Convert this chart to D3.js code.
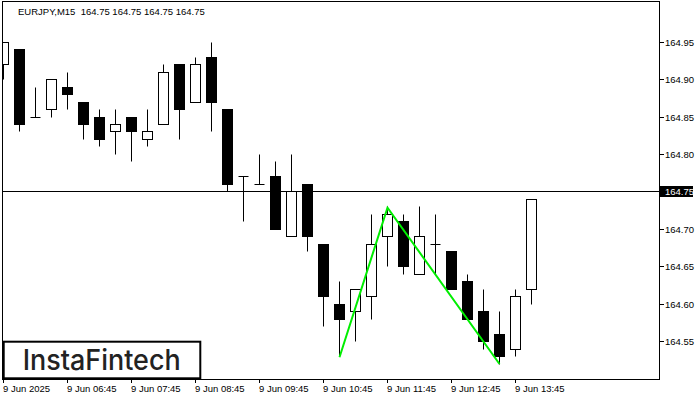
<!DOCTYPE html>
<html><head><meta charset="utf-8">
<script src="https://cdn.jsdelivr.net/npm/d3@7"></script>
<style>html,body{margin:0;padding:0;background:#fff;} svg{display:block;}</style>
</head><body>
<svg id="chart" width="700" height="400"></svg>
<script>
const times = ["05:45","06:00","06:15","06:30","06:45","07:00","07:15","07:30","07:45","08:00","08:15","08:30","08:45","09:00","09:15","09:30","09:45","10:00","10:15","10:30","10:45","11:00","11:15","11:30","11:45","12:00","12:15","12:30","12:45","13:00","13:15","13:30","13:45","14:00"];
const open  = [164.92,164.94,164.85,164.86,164.89,164.87,164.85,164.83,164.85,164.82,164.84,164.92,164.87,164.93,164.86,164.77,164.76,164.77,164.69,164.76,164.68,164.60,164.59,164.61,164.69,164.71,164.64,164.68,164.67,164.63,164.59,164.56,164.54,164.62];
const high  = [164.95,164.94,164.89,164.90,164.91,164.87,164.86,164.86,164.85,164.86,164.92,164.92,164.93,164.95,164.86,164.77,164.80,164.79,164.80,164.76,164.68,164.63,164.62,164.72,164.73,164.72,164.73,164.72,164.67,164.64,164.62,164.59,164.62,164.74];
const low   = [164.90,164.83,164.85,164.85,164.86,164.82,164.81,164.80,164.79,164.81,164.84,164.82,164.87,164.83,164.75,164.71,164.76,164.70,164.69,164.67,164.57,164.53,164.55,164.58,164.65,164.64,164.64,164.64,164.62,164.58,164.54,164.52,164.53,164.60];
const close = [164.95,164.84,164.85,164.90,164.88,164.84,164.82,164.84,164.83,164.83,164.91,164.86,164.92,164.87,164.76,164.77,164.76,164.70,164.75,164.69,164.61,164.58,164.62,164.68,164.72,164.65,164.69,164.68,164.62,164.58,164.55,164.53,164.61,164.74];

const priceTicks = [164.55,164.60,164.65,164.70,164.80,164.85,164.90,164.95];
const timeTicks = ["05:45","06:45","07:45","08:45","09:45","10:45","11:45","12:45","13:45"];
const timeTickLabels = ["9 Jun 2025","9 Jun 06:45","9 Jun 07:45","9 Jun 08:45","9 Jun 09:45","9 Jun 10:45","9 Jun 11:45","9 Jun 12:45","9 Jun 13:45"];
const lastPrice = 164.75;
const title = "EURJPY,M15  164.75 164.75 164.75 164.75";
const patternTimes = ["11:00","11:45","13:30"];
const patternPrices = [164.529,164.729,164.52];
const brand = "InstaFintech";

const parse = d3.timeParse("%H:%M");
const W = 700, H = 400;
const plot = {left: 2.5, right: 659.5, top: 1.5, bottom: 379};
const snap = v => Math.round(v - 0.5) + 0.5;

const x = d3.scaleTime().domain([parse("05:45"), parse("16:00")]).range([3.5, 659.5]);
const y = d3.scaleLinear().domain([164.5, 165.005]).range([379, 1]);

const svg = d3.select("#chart");
const FONT = "'Liberation Sans', Arial, sans-serif";

svg.append("defs").append("clipPath").attr("id","clip")
  .append("rect").attr("x",3).attr("y",2).attr("width",656).attr("height",377);

const g = svg.append("g").attr("clip-path","url(#clip)");

const candles = times.map((t,i)=>({t:parse(t), o:open[i], h:high[i], l:low[i], c:close[i]}));
const cg = g.selectAll("g.c").data(candles).join("g").attr("class","c");
cg.append("line")
  .attr("x1", d=>snap(x(d.t))).attr("x2", d=>snap(x(d.t)))
  .attr("y1", d=>snap(y(d.h))).attr("y2", d=>snap(y(d.l)))
  .attr("stroke","#000").attr("stroke-width",1);
cg.each(function(d){
  const cx = snap(x(d.t));
  const top = snap(y(Math.max(d.o,d.c)));
  const bot = snap(y(Math.min(d.o,d.c)));
  const sel = d3.select(this);
  if (bot - top < 1) {
    sel.append("line").attr("x1",cx-5).attr("x2",cx+5).attr("y1",top).attr("y2",top)
      .attr("stroke","#000").attr("stroke-width",1);
  } else {
    sel.append("rect").attr("x",cx-5).attr("y",top).attr("width",10).attr("height",bot-top)
      .attr("fill", d.c >= d.o ? "#fff" : "#000").attr("stroke","#000").attr("stroke-width",1);
  }
});

// current price line
g.append("line").attr("x1",plot.left).attr("x2",plot.right)
  .attr("y1",snap(y(lastPrice))).attr("y2",snap(y(lastPrice)))
  .attr("stroke","#000").attr("stroke-width",1);

// pattern line
const pts = patternTimes.map((t,i)=>[x(parse(t)), y(patternPrices[i])]);
g.append("path").attr("d", d3.line()(pts)).attr("fill","none")
  .attr("stroke","#00ee00").attr("stroke-width",2).attr("stroke-linejoin","miter");

// frame
svg.append("rect").attr("x",plot.left).attr("y",plot.top)
  .attr("width",plot.right-plot.left).attr("height",plot.bottom-plot.top+0.5)
  .attr("fill","none").attr("stroke","#000").attr("stroke-width",1);

// title
svg.append("text").attr("x",18).attr("y",14.5).attr("xml:space","preserve")
  .style("white-space","pre")
  .attr("font-family",FONT).attr("font-size",9.5).attr("fill","#000").text(title);

// right axis
const ra = svg.append("g");
priceTicks.forEach(p=>{
  const yy = snap(y(p));
  ra.append("line").attr("x1",660).attr("x2",664).attr("y1",yy).attr("y2",yy).attr("stroke","#000");
  ra.append("text").attr("x",665).attr("y",yy+3.5).attr("font-family",FONT).attr("font-size",9.5)
    .attr("fill","#000").text(d3.format(".2f")(p));
});
const ly = snap(y(lastPrice));
ra.append("rect").attr("x",660).attr("y",ly-5.5).attr("width",33).attr("height",11).attr("fill","#000");
ra.append("text").attr("x",665).attr("y",ly+3.5).attr("font-family",FONT).attr("font-size",9.5)
  .attr("fill","#fff").text(d3.format(".2f")(lastPrice));

// bottom axis
const ba = svg.append("g");
timeTicks.forEach((t,i)=>{
  const xx = snap(x(parse(t)));
  ba.append("line").attr("x1",xx).attr("x2",xx).attr("y1",379).attr("y2",383).attr("stroke","#000");
  ba.append("text").attr("x",xx-0.5).attr("y",392).attr("font-family",FONT).attr("font-size",9.5)
    .attr("fill","#000").text(timeTickLabels[i]);
});

// brand box
svg.append("rect").attr("x",3.7).attr("y",341.7).attr("width",196.6).attr("height",36.6)
  .attr("fill","#fff").attr("stroke","#000").attr("stroke-width",2);
svg.append("text").attr("x",22.7).attr("y",370).attr("font-family","Inter, 'Noto Sans', sans-serif")
  .attr("font-size",28).attr("font-weight",500).attr("fill","#222")
  .attr("textLength",158).attr("lengthAdjust","spacingAndGlyphs").text(brand);
</script>
</body></html>
